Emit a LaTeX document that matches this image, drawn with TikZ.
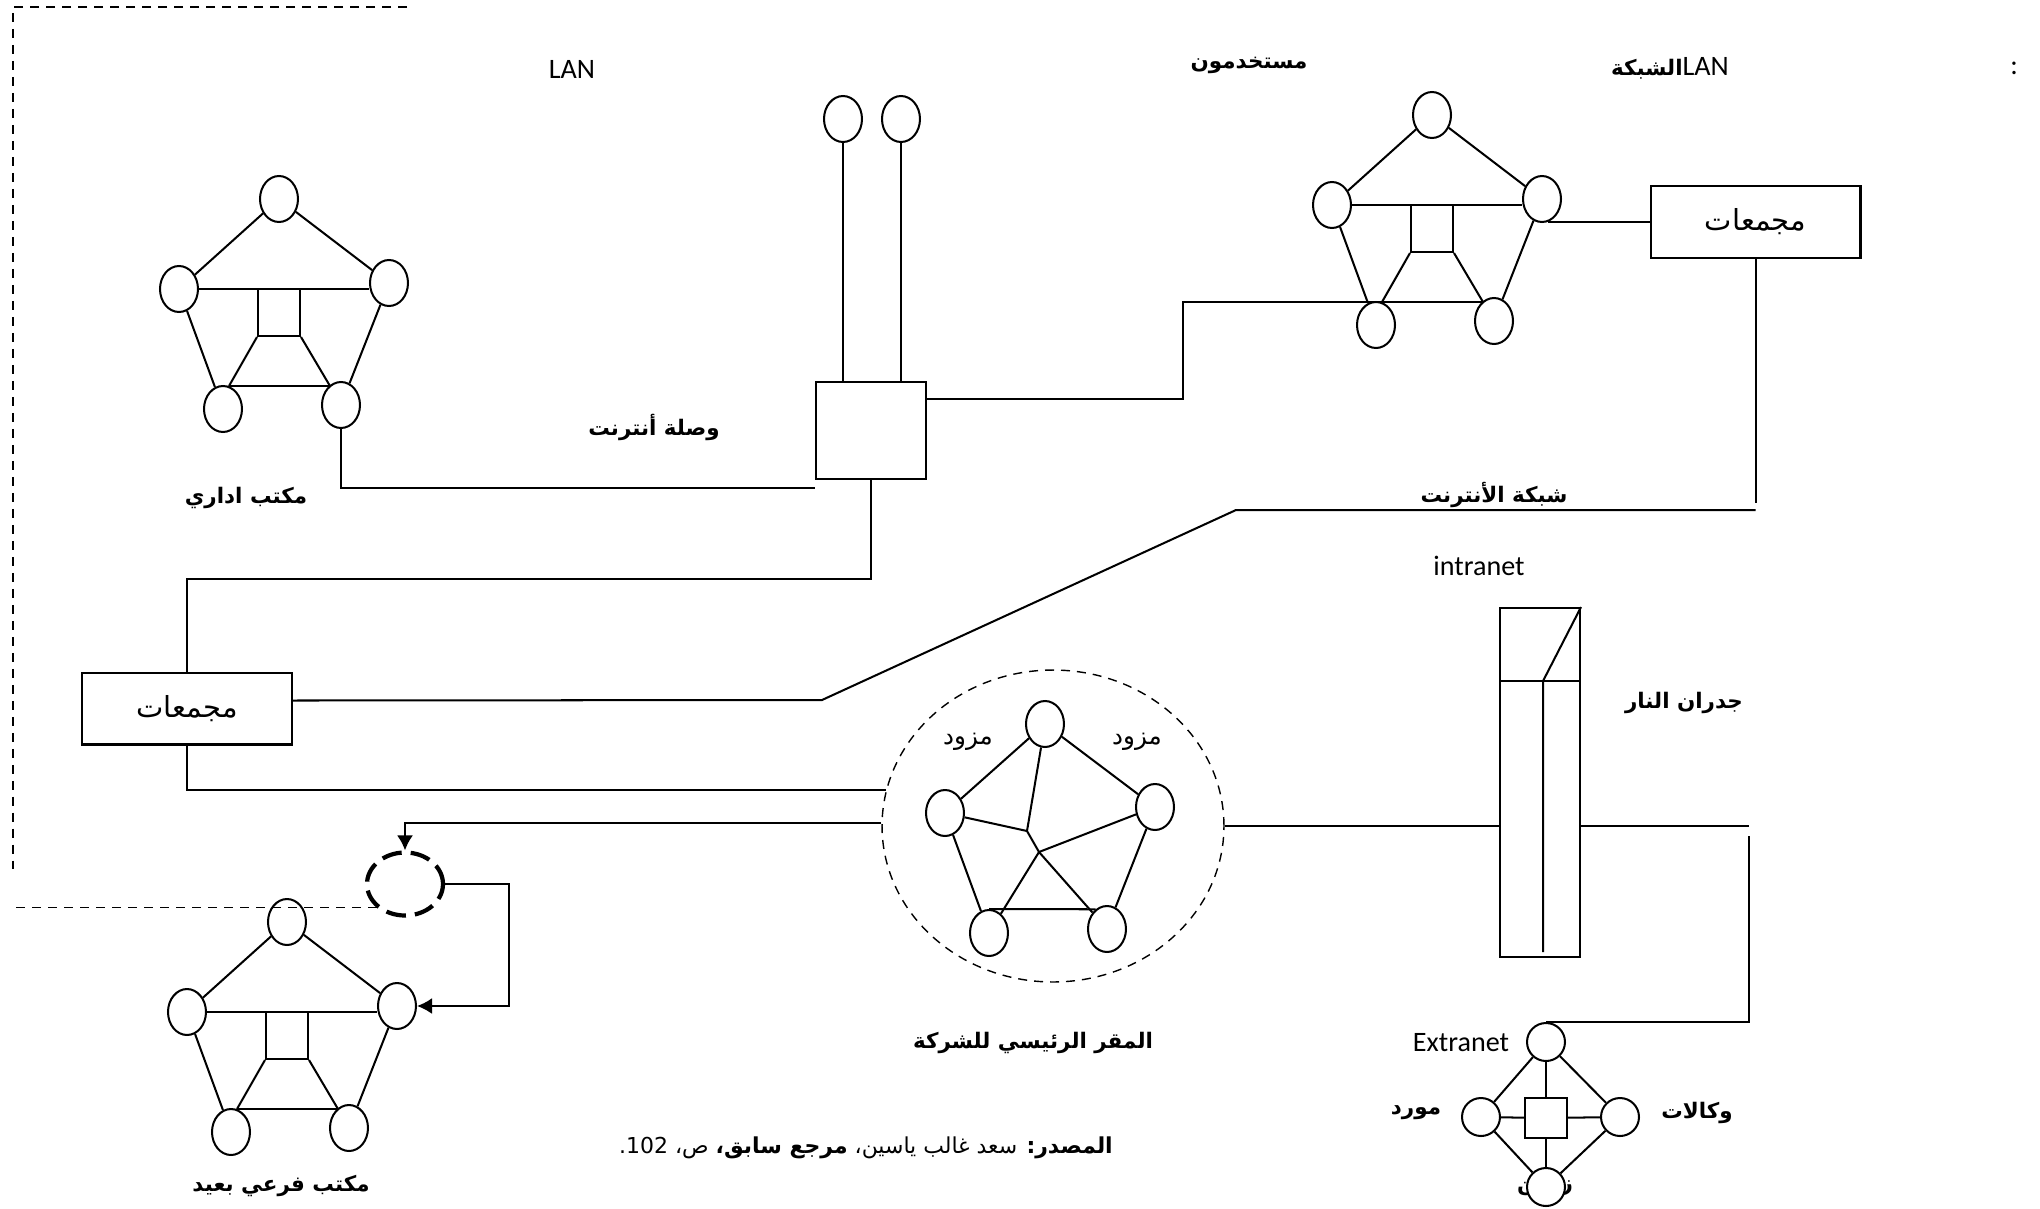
\documentclass[tikz,border=0pt]{standalone}
\usepackage{fontspec}
\setmainfont{Carlito}
\newfontfamily\arabicfont[Script=Arabic]{DejaVu Sans}
\TeXXeTstate=1
\usetikzlibrary{shapes.geometric, arrows.meta}

\newcommand{\artext}[1]{{\arabicfont\beginR #1\endR}}

\newcommand{\lanring}[2]{%
  \begin{scope}[shift={#2}]
    \node[pc] (#1T)  at (0,0)     {};
    \node[pc] (#1L)  at (-100,90) {};
    \node[pc] (#1R)  at (110,84)  {};
    \node[pc] (#1BL) at (-56,210) {};
    \node[pc] (#1BR) at (62,206)  {};
    \node[sq, minimum height=0.94cm] (#1S) at (0,113.5) {};
    \coordinate (#1b1) at (-50,187);
    \coordinate (#1b2) at (51,187);
    \draw (#1T) -- (#1L);
    \draw (#1T) -- (#1R);
    \draw (#1L) -- (#1BL);
    \draw (#1R) -- (#1BR);
    \draw (#1L.east) -- (#1L.east -| #1R.west);
    \draw (#1b1) -- (#1b2);
    \draw (#1S.south west) -- (#1b1);
    \draw (#1S.south east) -- (#1b2);
  \end{scope}}

\begin{document}
\begin{tikzpicture}[
        x=0.02cm, y=-0.02cm,
        line width=1.15pt,
        pc/.style={draw, ellipse, fill=white, minimum width=0.76cm, minimum height=0.92cm, inner sep=0pt},
        ec/.style={draw, circle, fill=white, minimum size=0.76cm, inner sep=0pt},
        sq/.style={draw, rectangle, fill=white, minimum width=0.84cm, inner sep=0pt},
        box/.style={draw, minimum width=4.2cm, minimum height=1.44cm, inner sep=0pt, font=\fontsize{16.5}{18}\selectfont},
        lbl/.style={font=\bfseries\fontsize{12.2}{14}\selectfont},
        thin lbl/.style={font=\fontsize{14}{16}\selectfont},
        latin/.style={font=\fontsize{16}{18}\selectfont},
        frame/.style={line width=0.8pt, dash pattern=on 0.18cm off 0.14cm},
        tip/.style={-{Latex[length=0.3cm,width=0.32cm]}}
    ]
    \useasboundingbox (0,0) rectangle (2040,1208);

    \coordinate (frA) at (407,7);
    \coordinate (frB) at (13,7);
    \coordinate (frC) at (13,869);
    \draw[frame] (frA) -- (frB) -- (frC);

    \node[latin] (lanA) at (572,69) {LAN};
    \node[lbl] (usersName) at (1249,65) {\artext{مستخدمون}};
    \node[latin] (lanB) at (1670,68) {{\bfseries\fontsize{12.2}{14}\selectfont\artext{الشبكة}}LAN};
    \node[latin] (colon) at (2014,68) {:};

    \lanring{adm}{(279,199)}
    \node[lbl] (admName) at (246,498) {\artext{مكتب اداري}};

    \node[pc] (u1) at (843,119) {};
    \node[pc] (u2) at (901,119) {};
    \node[draw, minimum width=2.2cm, minimum height=1.94cm] (inet) at (871,430.5) {};
    \draw (u1) -- (u1 |- inet.north);
    \draw (u2) -- (u2 |- inet.north);
    \node[lbl] (inetName) at (654,427) {\artext{وصلة أنترنت}};
    \draw (admBR.south) |- ([yshift=-0.16cm]inet.south west);

    \lanring{lan}{(1432,115)}
    \node[box] (hubT) at (1755.5,222) {\artext{مجمعات}};
    \draw (lanR.-76) -- (lanR.-76 -| hubT.west);
    \draw ([yshift=0.64cm]inet.east) -- ++(256,0) |- (lanb1);

    \node[lbl] (netName) at (1494,495) {\artext{شبكة الأنترنت}};
    \node[latin] (intraName) at (1479,566) {intranet};
    \node[box] (hubL) at (187,708.5) {\artext{مجمعات}};
    \coordinate (net1) at (822,700);
    \coordinate (net2) at (1236,510);
    \draw (hubT.south) -- ++(0,244);
    \draw ([yshift=0.16cm]hubL.east) -- (net1) -- (net2) -- (net2 -| hubT.south);
    \draw (inet.south) -- ++(0,99) -| (hubL.north);

    \node[draw, ellipse, frame, minimum width=6.84cm, minimum height=6.24cm] (hq) at (1053,826) {};
    \node[pc] (hT)  at (1045,724) {};
    \node[pc] (hL)  at (945,813)  {};
    \node[pc] (hR)  at (1155,807) {};
    \node[pc] (hBL) at (989,933)  {};
    \node[pc] (hBR) at (1107,929) {};
    \coordinate (hC) at (1027,831);
    \coordinate (hX) at (1039,852);
    \draw (hT) -- (hL);
    \draw (hT) -- (hR);
    \draw (hL) -- (hBL);
    \draw (hR) -- (hBR);
    \draw (hBL.north) -- (hBR.120);
    \draw (hT) -- (hC) -- (hX) -- (hBR);
    \draw (hL) -- (hC);
    \draw (hR) -- (hX) -- (hBL);
    \node[thin lbl] (prov1) at (968,742) {\artext{مزود}};
    \node[thin lbl] (prov2) at (1137,742) {\artext{مزود}};
    \node[lbl] (hqName) at (1033,1043) {\artext{المقر الرئيسي للشركة}};
    \draw (hubL.south) |- (hq.168);

    \node[draw, ellipse, minimum width=1.52cm, minimum height=1.26cm, line width=2.4pt, dash pattern=on 0.4cm off 0.18cm] (cloud) at (405,884) {};
    \draw[tip] (hq.179) -| (cloud.north);
    \lanring{br}{(287,922)}
    \node[lbl] (brName) at (281,1186) {\artext{مكتب فرعي بعيد}};
    \draw[tip] (cloud.east) -- ++(64,0) |- (brR.east);
    \draw[frame] (cloud.220) -- (cloud.220 -| frC);

    \node[draw, minimum width=1.6cm, minimum height=6.98cm, inner sep=0pt] (fw) at (1540,782.5) {};
    \draw (fw.north west) ++(0,74) -- ++(80,0);
    \draw (fw.north east) -- ++(-38,74) -- ++(0,271);
    \node[lbl] (fwName) at (1684,703) {\artext{جدران النار}};
    \draw (hq.east) -- (hq.east -| fw.west);
    \draw (hq.east -| fw.east) -- ++(168,0) coordinate (fwOut);

    \node[latin] (extName) at (1461,1043) {Extranet};
    \node[lbl] (custName) at (1545,1185) {\artext{زبائن}};
    \node[ec] (eT) at (1546,1042) {};
    \node[ec] (eL) at (1481,1117) {};
    \node[ec] (eR) at (1620,1117) {};
    \node[ec] (eB) at (1546,1187) {};
    \node[sq, minimum height=0.8cm] (eS) at (1546,1118) {};
    \draw (eT) -- (eL);
    \draw (eT) -- (eR);
    \draw (eL) -- (eB);
    \draw (eR) -- (eB);
    \draw (eT) -- (eS) -- (eB);
    \draw (eL) -- (eS) -- (eR);
    \draw ([yshift=-0.2cm]fwOut) |- (eT.north);
    \node[lbl] (supName) at (1416,1113) {\artext{مورد}};
    \node[lbl] (agName) at (1697,1113) {\artext{وكالات}};

    \node[font=\fontsize{12.5}{15}\selectfont] (source) at (866,1148) {\artext{{\bfseries المصدر:} سعد غالب ياسين، {\bfseries مرجع سابق،} ص، \beginL 102\endL.}};
\end{tikzpicture}
\end{document}
